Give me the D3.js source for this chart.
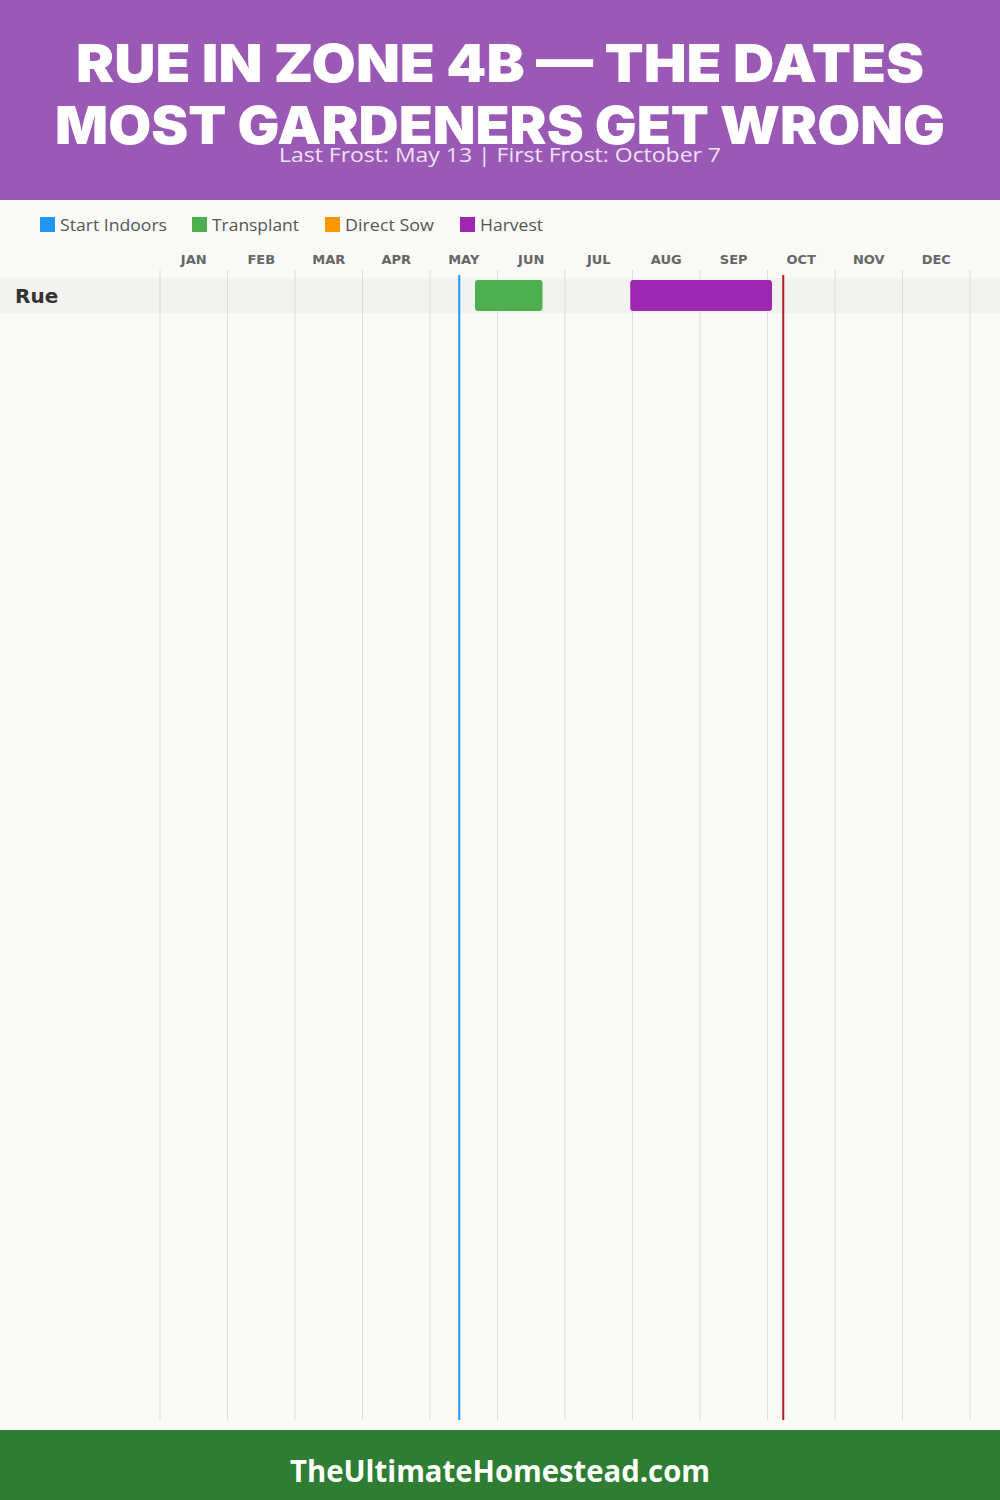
<!DOCTYPE html>
<html><head><meta charset="utf-8">
<script src="https://cdn.jsdelivr.net/npm/d3@7"></script>
<style>body{margin:0;background:#f9f9f7;}svg{display:block;}</style>
</head><body>
<svg id="c" width="1000" height="1500"></svg>
<script>
const titleLines = ["RUE IN ZONE 4B — THE DATES", "MOST GARDENERS GET WRONG"];
const subtitle = "Last Frost: May 13 | First Frost: October 7";
const footerText = "TheUltimateHomestead.com";
const months = ["JAN","FEB","MAR","APR","MAY","JUN","JUL","AUG","SEP","OCT","NOV","DEC"];
const legendNames = ["Start Indoors","Transplant","Direct Sow","Harvest"];
const legendColors = ["#2196f3","#4caf50","#ff9800","#9c27b0"];
const plants = ["Rue"];
// tasks: [plant, type, startMonth, startDay, endMonth, endDay]
const tasks = [
  ["Rue","Transplant",5,20,6,20],
  ["Rue","Harvest",7,29,10,2]
];
const lastFrost = [5,13];
const firstFrost = [10,7];

const svg = d3.select("#c");
const W = 1000, H = 1500;
svg.append("rect").attr("width",W).attr("height",H).attr("fill","#f9f9f7");
// header
svg.append("rect").attr("width",W).attr("height",200).attr("fill","#9b59b6");
const tl = [[82,848],[144,890]];
titleLines.forEach((t,i)=>{
  svg.append("text").attr("x",500).attr("y",tl[i][0]).attr("text-anchor","middle")
    .attr("font-family","Inter, 'DejaVu Sans', sans-serif").attr("font-weight",900)
    .attr("font-size",52).attr("fill","#fff")
    .attr("textLength",tl[i][1]).attr("lengthAdjust","spacingAndGlyphs").text(t);
});
svg.append("text").attr("x",500).attr("y",162).attr("text-anchor","middle")
  .attr("font-family","'Open Sans', sans-serif").attr("font-size",20).attr("fill","#ece3f2")
  .attr("textLength",442).attr("lengthAdjust","spacingAndGlyphs").text(subtitle);

// legend
const lx = [40,192,325,460];
const lw = [107,87,89,63];
legendNames.forEach((n,i)=>{
  svg.append("rect").attr("x",lx[i]).attr("y",217).attr("width",15).attr("height",15).attr("fill",legendColors[i]);
  svg.append("text").attr("x",lx[i]+20).attr("y",231).attr("font-family","'Open Sans', sans-serif")
    .attr("font-size",16).attr("fill","#555")
    .attr("textLength",lw[i]).attr("lengthAdjust","spacingAndGlyphs").text(n);
});

const x = d3.scaleLinear().domain([0,12]).range([160,970]);
const pos = (m,d)=> x(m-1 + d/30);
const y = d3.scaleBand().domain(plants).range([278,313]);

// row bands
svg.selectAll(".band").data(plants).join("rect").attr("x",0).attr("width",W)
  .attr("y",d=>y(d)).attr("height",y.bandwidth()).attr("fill","#f2f2f0");

// grid lines
svg.selectAll(".grid").data(d3.range(13)).join("line")
  .attr("x1",d=>x(d)).attr("x2",d=>x(d)).attr("y1",270).attr("y2",1420)
  .attr("stroke","#dcdcdc").attr("stroke-width",1);

// month labels
svg.selectAll(".mon").data(months).join("text")
  .attr("x",(d,i)=>x(i+0.5)).attr("y",264).attr("text-anchor","middle")
  .attr("font-family","'DejaVu Sans', sans-serif").attr("font-weight",700).attr("font-size",13)
  .attr("fill","#666").text(d=>d);

// plant labels
svg.selectAll(".pl").data(plants).join("text").attr("x",15).attr("y",d=>y(d)+y.bandwidth()/2+7)
  .attr("font-family","'DejaVu Sans', sans-serif").attr("font-weight",700).attr("font-size",20)
  .attr("fill","#333").text(d=>d);

// bars
const col = d3.scaleOrdinal().domain(legendNames).range(legendColors);
svg.selectAll(".bar").data(tasks).join("rect")
  .attr("x",d=>pos(d[2],d[3])).attr("width",d=>pos(d[4],d[5])-pos(d[2],d[3]))
  .attr("y",d=>y(d[0])+2).attr("height",y.bandwidth()-4).attr("rx",3)
  .attr("fill",d=>col(d[1]));

// frost lines
svg.append("line").attr("x1",pos(...lastFrost)).attr("x2",pos(...lastFrost)).attr("y1",275).attr("y2",1420)
  .attr("stroke","#2196f3").attr("stroke-width",2);
svg.append("line").attr("x1",pos(...firstFrost)).attr("x2",pos(...firstFrost)).attr("y1",275).attr("y2",1420)
  .attr("stroke","#b71c1c").attr("stroke-width",2);

// footer
svg.append("rect").attr("y",1430).attr("width",W).attr("height",70).attr("fill","#2e7d32");
svg.append("text").attr("x",500).attr("y",1482).attr("text-anchor","middle")
  .attr("font-family","'Open Sans', sans-serif").attr("font-weight",700).attr("font-size",30)
  .attr("fill","#fff").attr("textLength",420).attr("lengthAdjust","spacingAndGlyphs").text(footerText);
</script>
</body></html>
